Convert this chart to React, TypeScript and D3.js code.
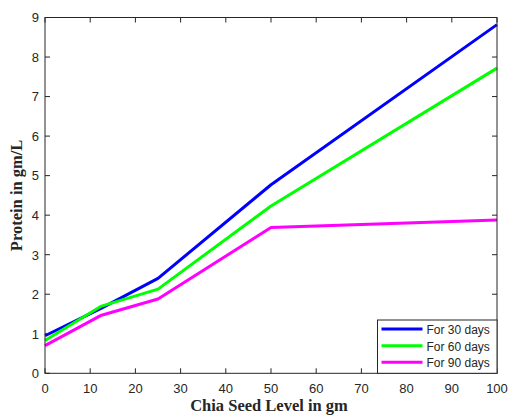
import React from "react";
import * as d3 from "d3";

const xLevels = [0, 12.5, 25, 50, 100];
const protein30 = [0.95, 1.65, 2.4, 4.77, 8.82];
const protein60 = [0.83, 1.7, 2.13, 4.23, 7.72];
const protein90 = [0.7, 1.47, 1.88, 3.69, 3.88];
const seriesNames = ["For 30 days", "For 60 days", "For 90 days"];
const seriesColors = ["#0000ff", "#00ff00", "#ff00ff"];
const xTicks = [0, 10, 20, 30, 40, 50, 60, 70, 80, 90, 100];
const yTicks = [0, 1, 2, 3, 4, 5, 6, 7, 8, 9];

export default function App() {
  const W = 508, H = 415;
  const L = 45, R = 497, T = 17.5, B = 373.3;
  const x = d3.scaleLinear().domain([0, 100]).range([L, R]);
  const y = d3.scaleLinear().domain([0, 9]).range([B, T]);
  const line = d3.line<number>().x((_, i) => x(xLevels[i])).y((d) => y(d));
  const all = [protein30, protein60, protein90];
  const tl = 5;
  const axisColor = "#262626";
  const legX0 = 377.5, legY0 = 320, legX1 = R, legY1 = B;
  const rowY = [329, 345.7, 362.3];
  return (
    <svg width={W} height={H} style={{ position: "absolute", left: 0, top: 0, background: "#fff" }}>
      <rect x={0} y={0} width={W} height={H} fill="#fff" />
      {all.map((s, i) => (
        <path key={i} d={line(s) || ""} fill="none" stroke={seriesColors[i]} strokeWidth={3} strokeLinejoin="round" />
      ))}
      <rect x={L} y={T} width={R - L} height={B - T} fill="none" stroke={axisColor} strokeWidth={1} />
      {xTicks.map((t) => (
        <g key={"x" + t}>
          <line x1={x(t)} x2={x(t)} y1={B} y2={B - tl} stroke={axisColor} />
          <line x1={x(t)} x2={x(t)} y1={T} y2={T + tl} stroke={axisColor} />
          <text x={x(t)} y={B + 19.5} textAnchor="middle" fontFamily="Liberation Sans, Arial, sans-serif" fontSize={13} fill={axisColor}>{t}</text>
        </g>
      ))}
      {yTicks.map((t) => (
        <g key={"y" + t}>
          <line x1={L} x2={L + tl} y1={y(t)} y2={y(t)} stroke={axisColor} />
          <line x1={R} x2={R - tl} y1={y(t)} y2={y(t)} stroke={axisColor} />
          <text x={L - 6} y={y(t) + 4.8} textAnchor="end" fontFamily="Liberation Sans, Arial, sans-serif" fontSize={13} fill={axisColor}>{t}</text>
        </g>
      ))}
      <text x={269} y={410.5} textAnchor="middle" fontFamily="Liberation Serif, Times New Roman, serif" fontWeight="bold" fontSize={16.5} fill={axisColor}>Chia Seed Level in gm</text>
      <text transform={`translate(22, ${(T + B) / 2}) rotate(-90)`} textAnchor="middle" fontFamily="Liberation Serif, Times New Roman, serif" fontWeight="bold" fontSize={16.5} fill={axisColor}>Protein in gm/L</text>
      <rect x={legX0} y={legY0} width={legX1 - legX0} height={legY1 - legY0} fill="#fff" stroke={axisColor} strokeWidth={1} />
      {seriesNames.map((n, i) => (
        <g key={n}>
          <line x1={381.5} x2={422.5} y1={rowY[i]} y2={rowY[i]} stroke={seriesColors[i]} strokeWidth={3} />
          <text x={426.5} y={rowY[i] + 5} fontFamily="Liberation Sans, Arial, sans-serif" fontSize={12} fill={axisColor}>{n}</text>
        </g>
      ))}
    </svg>
  );
}
